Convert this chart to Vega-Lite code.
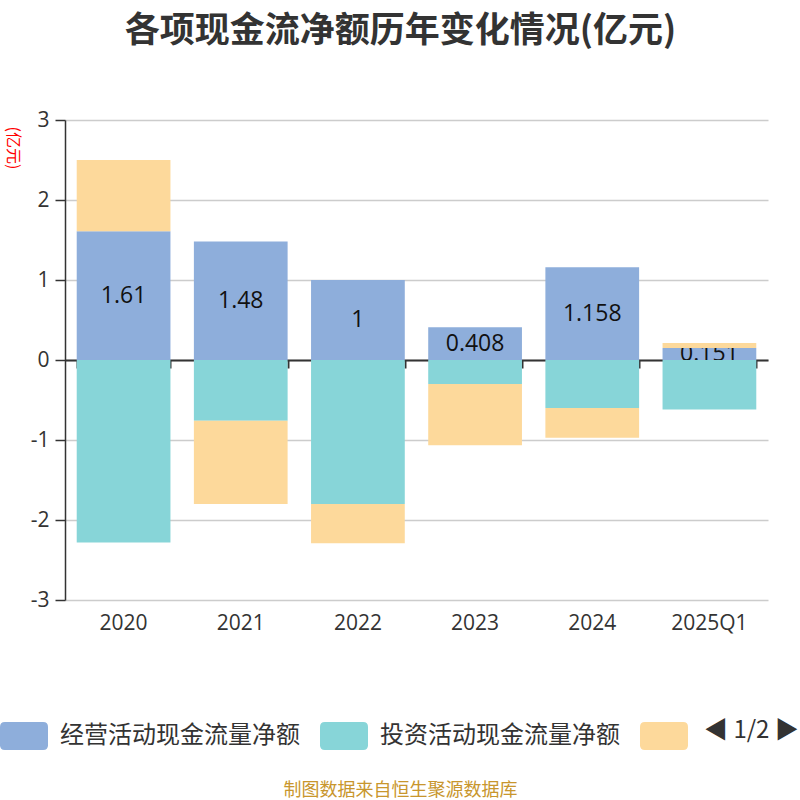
{
  "$schema": "https://vega.github.io/schema/vega-lite/v6.json",
  "width": 703,
  "height": 480,
  "autosize": {"type": "none"},
  "padding": {"left": 65, "top": 120, "right": 32, "bottom": 200},
  "background": "white",
  "config": {
    "font": "Noto Sans CJK SC",
    "view": {"stroke": null}
  },
  "title": {
    "text": "各项现金流净额历年变化情况(亿元)",
    "fontSize": 35,
    "fontWeight": "bold",
    "color": "#333333",
    "anchor": "middle",
    "dx": -16,
    "offset": 60
  },
  "data": {
    "values": [
      {"year": "2020", "type": "经营活动现金流量净额", "rank": 1, "value": 1.61},
      {"year": "2020", "type": "投资活动现金流量净额", "rank": 2, "value": -2.28},
      {"year": "2020", "type": "筹资活动现金流量净额", "rank": 3, "value": 0.89},
      {"year": "2021", "type": "经营活动现金流量净额", "rank": 1, "value": 1.48},
      {"year": "2021", "type": "投资活动现金流量净额", "rank": 2, "value": -0.76},
      {"year": "2021", "type": "筹资活动现金流量净额", "rank": 3, "value": -1.04},
      {"year": "2022", "type": "经营活动现金流量净额", "rank": 1, "value": 1},
      {"year": "2022", "type": "投资活动现金流量净额", "rank": 2, "value": -1.8},
      {"year": "2022", "type": "筹资活动现金流量净额", "rank": 3, "value": -0.49},
      {"year": "2023", "type": "经营活动现金流量净额", "rank": 1, "value": 0.408},
      {"year": "2023", "type": "投资活动现金流量净额", "rank": 2, "value": -0.3},
      {"year": "2023", "type": "筹资活动现金流量净额", "rank": 3, "value": -0.767},
      {"year": "2024", "type": "经营活动现金流量净额", "rank": 1, "value": 1.158},
      {"year": "2024", "type": "投资活动现金流量净额", "rank": 2, "value": -0.6},
      {"year": "2024", "type": "筹资活动现金流量净额", "rank": 3, "value": -0.371},
      {"year": "2025Q1", "type": "经营活动现金流量净额", "rank": 1, "value": 0.151},
      {"year": "2025Q1", "type": "投资活动现金流量净额", "rank": 2, "value": -0.62},
      {"year": "2025Q1", "type": "筹资活动现金流量净额", "rank": 3, "value": 0.06}
    ]
  },
  "transform": [
    {"stack": "value", "groupby": ["year"], "sort": [{"field": "rank", "order": "ascending"}], "offset": "zero", "as": ["v0", "v1"]}
  ],
  "layer": [
    {
      "transform": [{"filter": "datum.rank == 1"}],
      "mark": {"type": "bar"},
      "encoding": {
        "x": {
          "field": "year",
          "type": "nominal",
          "sort": null,
          "scale": {"paddingInner": 0.2, "paddingOuter": 0.1},
          "axis": {
            "orient": "bottom",
            "domain": false,
            "ticks": false,
            "labelAngle": 0,
            "labelFont": "Open Sans",
            "labelFontSize": 21,
            "labelColor": "#333333",
            "labelPadding": 12,
            "title": "制图数据来自恒生聚源数据库",
            "titleColor": "#c8962d",
            "titleFontSize": 18,
            "titleFontWeight": "normal",
            "titleX": 335,
            "titleY": 190,
            "titleBaseline": "middle"
          }
        },
        "y": {
          "field": "v0",
          "type": "quantitative",
          "scale": {"domain": [-3, 3]},
          "axis": {
            "values": [-3, -2, -1, 0, 1, 2, 3],
            "labelExpr": "toString(datum.value)",
            "labelFont": "Open Sans",
            "labelFontSize": 21,
            "labelColor": "#333333",
            "labelPadding": 6,
            "domainColor": "#333333",
            "domainWidth": 1.5,
            "tickColor": "#333333",
            "tickSize": 10,
            "tickWidth": 1.5,
            "gridColor": "#cccccc",
            "gridWidth": 1.5,
            "title": "(亿元)",
            "titleColor": "#ff0000",
            "titleFontSize": 16,
            "titleFontWeight": "normal",
            "titleAngle": 90,
            "titleAnchor": "end",
            "titleX": -61,
            "titleY": 6,
            "titleAlign": "left",
            "titleBaseline": "bottom"
          }
        },
        "y2": {"field": "v1"},
        "color": {
          "field": "type",
          "type": "nominal",
          "scale": {
            "domain": ["经营活动现金流量净额", "投资活动现金流量净额", "筹资活动现金流量净额"],
            "range": ["#8eaedb", "#87d5d8", "#fdd99b"]
          },
          "legend": {
            "orient": "none",
            "legendX": -65,
            "legendY": 592,
            "direction": "horizontal",
            "columns": 3,
            "columnPadding": 20,
            "symbolType": "M-0.8,-0.58L0.8,-0.58Q1,-0.58 1,-0.38L1,0.38Q1,0.58 0.8,0.58L-0.8,0.58Q-1,0.58 -1,0.38L-1,-0.38Q-1,-0.58 -0.8,-0.58Z",
            "symbolSize": 2304,
            "symbolStrokeWidth": 0,
            "symbolOpacity": 1,
            "labelFontSize": 24,
            "labelColor": "#333333",
            "labelOffset": 12,
            "labelLimit": 320,
            "labelExpr": "datum.label == '筹资活动现金流量净额' ? '' : datum.label",
            "title": "◀ 1/2 ▶",
            "titleOrient": "right",
            "titleFontSize": 24,
            "titleFontWeight": "normal",
            "titleColor": "#333333",
            "titlePadding": 4,
            "titleBaseline": "middle"
          }
        }
      }
    },
    {
      "transform": [
        {"filter": "datum.rank == 1"},
        {"calculate": "(datum.v0 + datum.v1) / 2", "as": "mid"}
      ],
      "mark": {"type": "text", "fontSize": 23, "font": "Open Sans", "baseline": "middle"},
      "encoding": {
        "x": {
          "field": "year",
          "type": "nominal",
          "sort": null,
          "axis": {
            "orient": "top",
            "offset": -240,
            "labels": false,
            "title": null,
            "domain": true,
            "domainColor": "#333333",
            "domainWidth": 2,
            "ticks": true,
            "tickBand": "extent",
            "tickSize": -8,
            "tickColor": "#333333",
            "tickWidth": 2
          }
        },
        "y": {"field": "mid", "type": "quantitative", "axis": {"title": "(亿元)"}},
        "text": {"field": "value", "type": "quantitative", "format": ""},
        "color": {"value": "#111111"}
      }
    },
    {
      "transform": [{"filter": "datum.rank > 1"}],
      "mark": {"type": "bar"},
      "encoding": {
        "x": {"field": "year", "type": "nominal", "sort": null, "axis": null},
        "y": {"field": "v0", "type": "quantitative", "axis": {"title": "(亿元)"}},
        "y2": {"field": "v1"},
        "color": {"field": "type", "type": "nominal"}
      }
    }
  ],
  "resolve": {"axis": {"x": "independent"}}
}
